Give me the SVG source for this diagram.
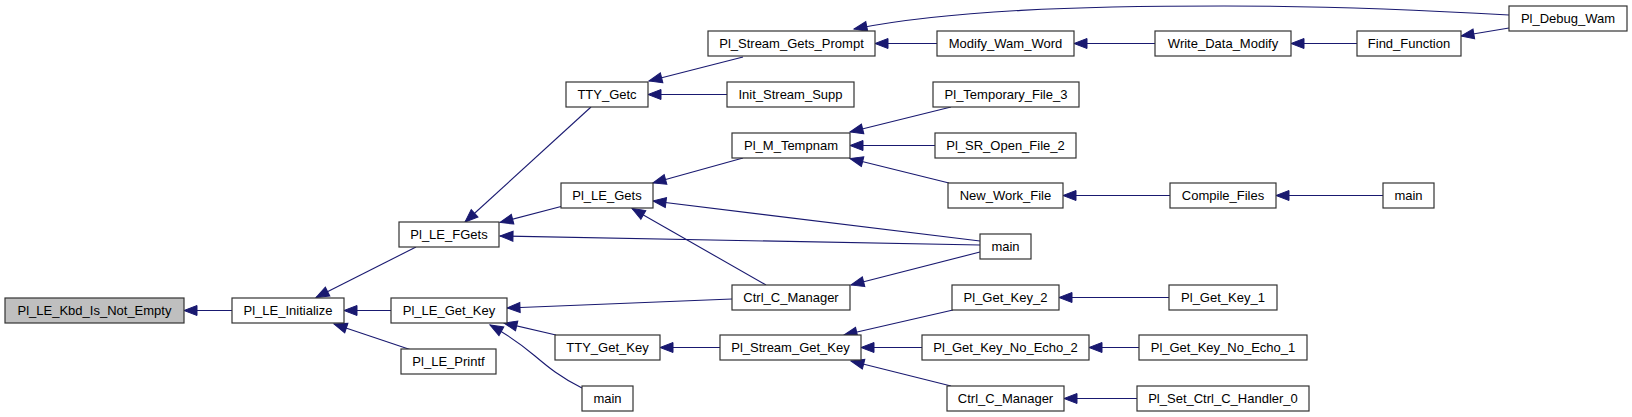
<svg xmlns="http://www.w3.org/2000/svg" width="1632" height="417" viewBox="0 0 1632 417">
<style>
.n rect{fill:#ffffff;stroke:#333333;stroke-width:1.2}
.n text{font-family:"Liberation Sans",Arial,sans-serif;font-size:13px;fill:#000000;text-anchor:middle}
.e path{fill:none;stroke:#191970;stroke-width:1.1;marker-end:url(#ah)}
</style>
<defs>
<marker id="ah" markerUnits="userSpaceOnUse" markerWidth="15" markerHeight="12" refX="13" refY="5" orient="auto" overflow="visible">
<path d="M0,0 L13,5 L0,10 Z" fill="#191970" stroke="#191970" stroke-width="1"/>
</marker>
</defs>
<rect x="0" y="0" width="1632" height="417" fill="#ffffff"/>
<g id="edges" class="e">
<path d="M232,310.5 L184,310.5"/>
<path d="M416,247 L316,297.5"/>
<path d="M391,310.5 L344,310.5"/>
<path d="M410,349.5 L334,324"/>
<path d="M591,107 L465,222"/>
<path d="M563,206 L500,222.5"/>
<path d="M980,245 L500,236"/>
<path d="M732,299 L507,308"/>
<path d="M556,335 L504,323"/>
<path d="M582,388 C560,377 548,367 535,356 C522,345 510,336 490,325"/>
<path d="M743,57 L649,81"/>
<path d="M727,94.5 L648,94.5"/>
<path d="M743,158 L653,183"/>
<path d="M980,241 L653,201"/>
<path d="M766,285 L632,208.5"/>
<path d="M980,252 L851,285"/>
<path d="M720,347.5 L660,347.5"/>
<path d="M1509,15 C1420,10 1330,6 1224,6 C1080,6 950,10 854,29"/>
<path d="M937,43.5 L875,43.5"/>
<path d="M951,107 L850,132"/>
<path d="M935,145.5 L850,145.5"/>
<path d="M949,183 L850,158.5"/>
<path d="M1155,43.5 L1074,43.5"/>
<path d="M1170,195.5 L1063,195.5"/>
<path d="M1357,43.5 L1291,43.5"/>
<path d="M1509,28 L1461,36"/>
<path d="M1383,195.5 L1276,195.5"/>
<path d="M953,310 L844,335"/>
<path d="M922,347.5 L861,347.5"/>
<path d="M951,386 L851,361"/>
<path d="M1169,297.5 L1059,297.5"/>
<path d="M1139,347.5 L1089,347.5"/>
<path d="M1137,398.5 L1064,398.5"/>
</g>
<g id="n0" class="n"><rect x="5" y="298" width="179" height="25" style="fill:#bfbfbf"/><text x="94.5" y="315">Pl_LE_Kbd_Is_Not_Empty</text></g>
<g id="n1" class="n"><rect x="232" y="298" width="112" height="25"/><text x="288" y="315">Pl_LE_Initialize</text></g>
<g id="n2" class="n"><rect x="399" y="222" width="100" height="25"/><text x="449" y="239">Pl_LE_FGets</text></g>
<g id="n3" class="n"><rect x="391" y="298" width="116" height="25"/><text x="449" y="315">Pl_LE_Get_Key</text></g>
<g id="n4" class="n"><rect x="401" y="349" width="95" height="25"/><text x="448.5" y="366">Pl_LE_Printf</text></g>
<g id="n5" class="n"><rect x="566" y="82" width="82" height="25"/><text x="607" y="99">TTY_Getc</text></g>
<g id="n6" class="n"><rect x="561" y="183" width="92" height="25"/><text x="607" y="200">Pl_LE_Gets</text></g>
<g id="n7" class="n"><rect x="980" y="234" width="51" height="25"/><text x="1005.5" y="251">main</text></g>
<g id="n8" class="n"><rect x="732" y="285" width="118" height="25"/><text x="791" y="302">Ctrl_C_Manager</text></g>
<g id="n9" class="n"><rect x="555" y="335" width="105" height="25"/><text x="607.5" y="352">TTY_Get_Key</text></g>
<g id="n10" class="n"><rect x="582" y="386" width="51" height="25"/><text x="607.5" y="403">main</text></g>
<g id="n11" class="n"><rect x="708" y="31" width="167" height="25"/><text x="791.5" y="48">Pl_Stream_Gets_Prompt</text></g>
<g id="n12" class="n"><rect x="727" y="82" width="127" height="25"/><text x="790.5" y="99">Init_Stream_Supp</text></g>
<g id="n13" class="n"><rect x="732" y="133" width="118" height="25"/><text x="791" y="150">Pl_M_Tempnam</text></g>
<g id="n14" class="n"><rect x="1509" y="6" width="118" height="25"/><text x="1568" y="23">Pl_Debug_Wam</text></g>
<g id="n15" class="n"><rect x="937" y="31" width="137" height="25"/><text x="1005.5" y="48">Modify_Wam_Word</text></g>
<g id="n16" class="n"><rect x="933" y="82" width="146" height="25"/><text x="1006" y="99">Pl_Temporary_File_3</text></g>
<g id="n17" class="n"><rect x="935" y="133" width="141" height="25"/><text x="1005.5" y="150">Pl_SR_Open_File_2</text></g>
<g id="n18" class="n"><rect x="948" y="183" width="115" height="25"/><text x="1005.5" y="200">New_Work_File</text></g>
<g id="n19" class="n"><rect x="1155" y="31" width="136" height="25"/><text x="1223" y="48">Write_Data_Modify</text></g>
<g id="n20" class="n"><rect x="1357" y="31" width="104" height="25"/><text x="1409" y="48">Find_Function</text></g>
<g id="n21" class="n"><rect x="1170" y="183" width="106" height="25"/><text x="1223" y="200">Compile_Files</text></g>
<g id="n22" class="n"><rect x="1383" y="183" width="51" height="25"/><text x="1408.5" y="200">main</text></g>
<g id="n23" class="n"><rect x="720" y="335" width="141" height="25"/><text x="790.5" y="352">Pl_Stream_Get_Key</text></g>
<g id="n24" class="n"><rect x="952" y="285" width="107" height="25"/><text x="1005.5" y="302">Pl_Get_Key_2</text></g>
<g id="n25" class="n"><rect x="922" y="335" width="167" height="25"/><text x="1005.5" y="352">Pl_Get_Key_No_Echo_2</text></g>
<g id="n26" class="n"><rect x="947" y="386" width="117" height="25"/><text x="1005.5" y="403">Ctrl_C_Manager</text></g>
<g id="n27" class="n"><rect x="1169" y="285" width="108" height="25"/><text x="1223" y="302">Pl_Get_Key_1</text></g>
<g id="n28" class="n"><rect x="1139" y="335" width="168" height="25"/><text x="1223" y="352">Pl_Get_Key_No_Echo_1</text></g>
<g id="n29" class="n"><rect x="1137" y="386" width="172" height="25"/><text x="1223" y="403">Pl_Set_Ctrl_C_Handler_0</text></g>
</svg>
